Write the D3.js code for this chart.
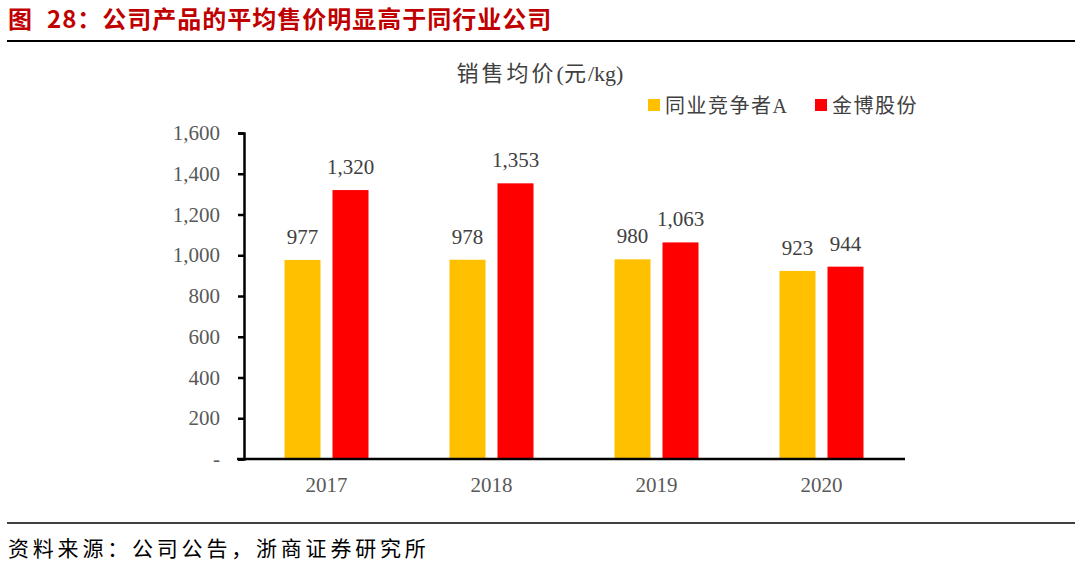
<!DOCTYPE html>
<html>
<head>
<meta charset="utf-8">
<script src="https://cdn.jsdelivr.net/npm/d3@7"></script>
<style>
  body { margin: 0; background: #fff; }
  svg text { font-family: "Liberation Serif", "Noto Sans CJK SC", serif; }
</style>
</head>
<body>
<div id="chart"></div>
<script>
// data
var years = ["2017", "2018", "2019", "2020"];
var seriesNames = ["同业竞争者A", "金博股份"];
var competitorA = [977, 978, 980, 923];
var jinbo = [1320, 1353, 1063, 944];
var yTicks = [0, 200, 400, 600, 800, 1000, 1200, 1400, 1600];
var colors = ["#FFC000", "#FF0000"];

var svgWidth = 1080;
var svgHeight = 565;

var svg = d3.select("#chart")
  .append("svg")
  .attr("width", svgWidth)
  .attr("height", svgHeight);

// header
var head = svg.append("text")
  .attr("x", 8)
  .attr("y", 28)
  .attr("fill", "#C00000")
  .style("font-family", "'Noto Sans CJK SC', sans-serif")
  .style("font-weight", "bold")
  .style("font-size", "24px")
  .style("letter-spacing", "1px");
head.append("tspan").text("图");
head.append("tspan").attr("dx", 14).text("28：公司产品的平均售价明显高于同行业公司");

svg.append("line")
  .attr("x1", 7).attr("x2", 1075)
  .attr("y1", 41).attr("y2", 41)
  .attr("stroke", "#000").attr("stroke-width", 2);

svg.append("line")
  .attr("x1", 7).attr("x2", 1075)
  .attr("y1", 523).attr("y2", 523)
  .attr("stroke", "#000").attr("stroke-width", 1.5);

svg.append("text")
  .attr("x", 8)
  .attr("y", 556)
  .attr("fill", "#000")
  .style("font-size", "21px")
  .style("letter-spacing", "3.8px")
  .text("资料来源：公司公告，浙商证券研究所");

// chart title
var ct = svg.append("text")
  .attr("x", 540)
  .attr("y", 81)
  .attr("text-anchor", "middle")
  .attr("fill", "#404040")
  .style("font-size", "22px");
ct.append("tspan").style("letter-spacing", "3px").text("销售均价");
ct.append("tspan").text("(");
ct.append("tspan").style("letter-spacing", "2px").text("元");
ct.append("tspan").text("/kg)");

// legend
var legend = svg.append("g");
var legendX = [648, 815];
seriesNames.forEach(function(name, i) {
  legend.append("rect")
    .attr("x", legendX[i]).attr("y", 99)
    .attr("width", 12).attr("height", 12)
    .attr("fill", colors[i]);
  legend.append("text")
    .attr("x", legendX[i] + 17).attr("y", 113)
    .attr("fill", "#404040")
    .style("font-size", "20px")
    .style("letter-spacing", "1.5px")
    .text(name);
});

// scales
var xBand = d3.scaleBand()
  .domain(years)
  .range([244, 904]);

var yLinearScale = d3.scaleLinear()
  .domain([0, 1600])
  .range([459, 133]);

var barWidth = 36;
var barGap = 12;

var bars = [
  { values: competitorA, offset: -(barWidth + barGap / 2) },
  { values: jinbo, offset: barGap / 2 }
];

bars.forEach(function(s, i) {
  var g = svg.append("g");
  g.selectAll("rect")
    .data(s.values)
    .enter()
    .append("rect")
    .attr("x", (d, j) => xBand(years[j]) + xBand.bandwidth() / 2 + s.offset)
    .attr("y", d => yLinearScale(d))
    .attr("width", barWidth)
    .attr("height", d => yLinearScale(0) - yLinearScale(d))
    .attr("fill", colors[i]);

  g.selectAll("text")
    .data(s.values)
    .enter()
    .append("text")
    .attr("x", (d, j) => xBand(years[j]) + xBand.bandwidth() / 2 + s.offset + barWidth / 2)
    .attr("y", d => yLinearScale(d) - 16)
    .attr("text-anchor", "middle")
    .attr("fill", "#404040")
    .style("font-size", "21px")
    .text(d => d3.format(",")(d));
});

// y axis
var leftAxis = d3.axisLeft(yLinearScale)
  .tickValues(yTicks)
  .tickSize(6)
  .tickPadding(18)
  .tickFormat(d => d === 0 ? "-" : d3.format(",")(d));

var yAxis = svg.append("g")
  .attr("transform", "translate(244, 0)")
  .call(leftAxis);
yAxis.select(".domain").attr("stroke", "#000").attr("stroke-width", 2.5);
yAxis.selectAll(".tick line").attr("stroke", "#000").attr("stroke-width", 2.5);
yAxis.selectAll(".tick text")
  .attr("fill", "#595959")
  .style("font-size", "21px")
  .style("font-family", "'Liberation Serif', serif");

// x axis
var bottomAxis = d3.axisBottom(xBand)
  .tickSize(0)
  .tickPadding(18);

var xAxis = svg.append("g")
  .attr("transform", "translate(0, 459)")
  .call(bottomAxis);
xAxis.select(".domain")
  .attr("d", "M237,0H905")
  .attr("stroke", "#000").attr("stroke-width", 2.5);
xAxis.selectAll(".tick text")
  .attr("fill", "#595959")
  .style("font-size", "21px")
  .style("font-family", "'Liberation Serif', serif");
</script>
</body>
</html>
